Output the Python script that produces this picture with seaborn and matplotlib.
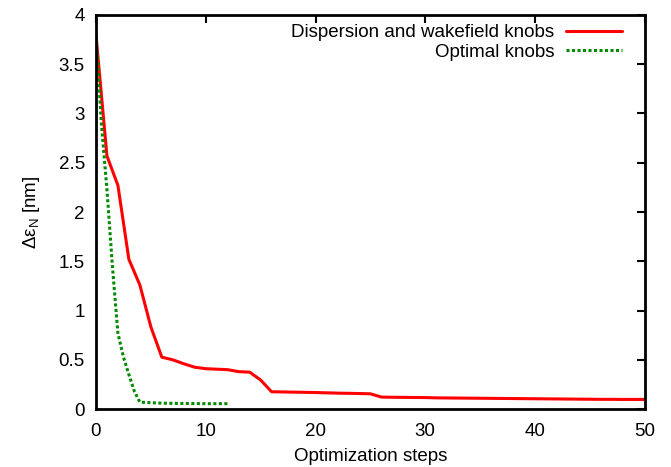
import matplotlib
matplotlib.use("Agg")
import matplotlib.pyplot as plt
import seaborn as sns
import pandas as pd
from matplotlib.ticker import FuncFormatter, MultipleLocator

# Data
red_steps = list(range(0, 51))
red_values = [3.80, 2.57, 2.27, 1.52, 1.26, 0.835, 0.527, 0.50, 0.46, 0.425,
              0.41, 0.405, 0.40, 0.38, 0.375, 0.295, 0.176, 0.174, 0.172, 0.170,
              0.168, 0.165, 0.162, 0.160, 0.158, 0.155, 0.122, 0.120, 0.119, 0.118,
              0.117, 0.114, 0.113, 0.112, 0.111, 0.110, 0.109, 0.108, 0.107, 0.106,
              0.105, 0.104, 0.103, 0.102, 0.101, 0.100, 0.099, 0.099, 0.098, 0.098,
              0.098]
green_steps = [0, 0.5, 1, 1.5, 2, 2.5, 3, 3.5, 4, 5, 6, 7, 8, 9, 10, 11, 12]
green_values = [3.80, 2.89, 2.23, 1.45, 0.77, 0.53, 0.35, 0.18, 0.07, 0.065,
                0.06, 0.058, 0.057, 0.056, 0.055, 0.055, 0.055]

label_red = "Dispersion and wakefield knobs"
label_green = "Optimal knobs"

sns.set_style("white")
plt.rcParams['font.family'] = ['Liberation Sans', 'DejaVu Sans']
plt.rcParams['mathtext.fontset'] = 'custom'
plt.rcParams['mathtext.rm'] = 'Liberation Sans'
plt.rcParams['mathtext.it'] = 'Liberation Sans:italic'
plt.rcParams['text.color'] = 'black'
plt.rcParams['axes.labelcolor'] = 'black'
plt.rcParams['xtick.color'] = 'black'
plt.rcParams['ytick.color'] = 'black'

fig = plt.figure(figsize=(6.71, 4.67), dpi=100)
ax = fig.add_axes([0.143, 0.124, 0.818, 0.844])

df_red = pd.DataFrame({"x": red_steps, "y": red_values})
df_green = pd.DataFrame({"x": green_steps, "y": green_values})

sns.lineplot(data=df_red, x="x", y="y", ax=ax, color="#ff0000", lw=2.2,
             label=label_red)
sns.lineplot(data=df_green, x="x", y="y", ax=ax, color="#008a00", lw=2.2,
             linestyle=(0, (1.0, 0.8)), label=label_green)

ax.set_xlim(0, 50)
ax.set_ylim(0, 4)
ax.xaxis.set_major_locator(MultipleLocator(10))
ax.yaxis.set_major_locator(MultipleLocator(0.5))
ax.yaxis.set_major_formatter(FuncFormatter(lambda v, p: f"{v:g}"))

ax.tick_params(direction="in", length=6, width=1.5, top=True, right=True,
               labelsize=13.5, colors="black")
ax.tick_params(axis="x", pad=10)
ax.tick_params(axis="y", pad=8)
for s in ax.spines.values():
    s.set_linewidth(2)
    s.set_color("black")

ax.set_xlabel("Optimization steps", fontsize=13.5, labelpad=6)
ax.set_ylabel(r"Δε$_{\rm N}$ [nm]", fontsize=13.5, labelpad=12)

leg = ax.legend(loc="upper right", bbox_to_anchor=(0.958, 0.977),
                frameon=False, markerfirst=False, borderpad=0,
                fontsize=13.5, handlelength=3.0, borderaxespad=0,
                labelspacing=0.12, handletextpad=0.6)
for t in leg.get_texts():
    t.set_color("black")

fig.savefig("out.png", dpi=100)
